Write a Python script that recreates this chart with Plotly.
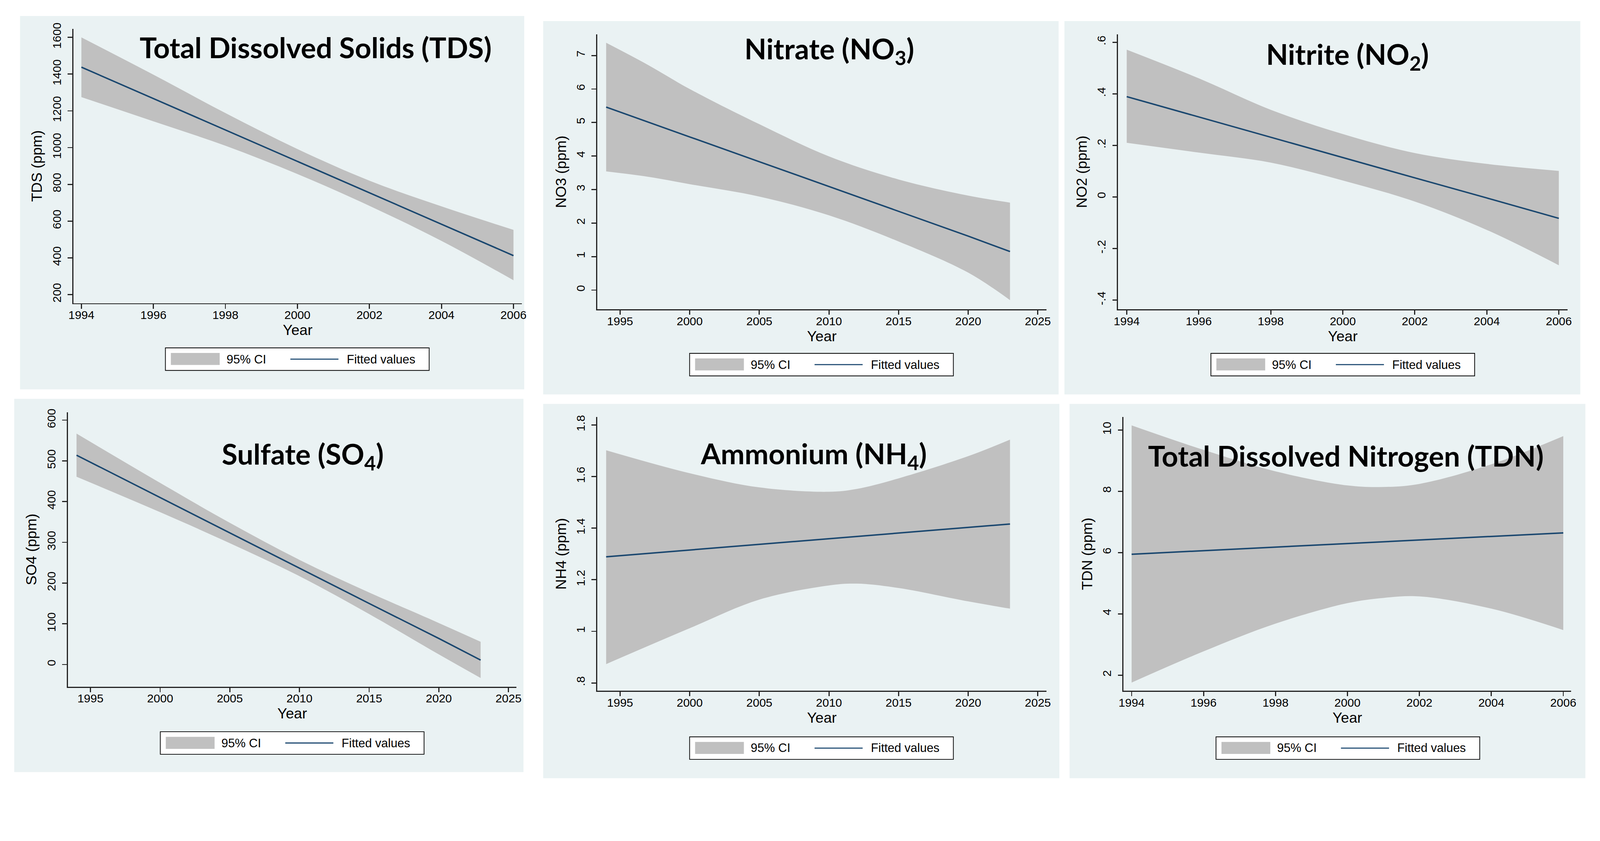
import plotly.graph_objects as go

# ---------------- data ----------------
TDS_year  = [1994, 1996, 1998, 2000, 2002, 2004, 2006]
TDS_fit   = [1438, 1267, 1096, 925, 754, 583, 412]
TDS_upper = [1600, 1397, 1188, 992, 820, 680, 552]
TDS_lower = [1275, 1143, 1010, 856, 683, 492, 278]

NO3_year  = [1994, 1997, 2000, 2005, 2010, 2015, 2020, 2023]
NO3_fit   = [5.46, 5.02, 4.57, 3.83, 3.09, 2.35, 1.61, 1.15]
NO3_upper = [7.38, 6.72, 6.00, 4.95, 3.99, 3.30, 2.82, 2.61]
NO3_lower = [3.54, 3.38, 3.16, 2.79, 2.23, 1.45, 0.52, -0.30]

NO2_year  = [1994, 1996, 1998, 2000, 2002, 2004, 2006]
NO2_fit   = [0.389, 0.310, 0.232, 0.153, 0.074, -0.004, -0.083]
NO2_upper = [0.571, 0.460, 0.338, 0.244, 0.170, 0.128, 0.101]
NO2_lower = [0.210, 0.172, 0.133, 0.064, -0.018, -0.128, -0.265]

SO4_year  = [1994, 2000, 2005, 2010, 2015, 2020, 2023]
SO4_fit   = [514, 410, 323, 237, 150, 64, 11]
SO4_upper = [567, 446, 348, 257, 177, 102, 56]
SO4_lower = [461, 374, 298, 217, 124, 25, -33]

NH4_year  = [1994, 2000, 2005, 2010, 2012, 2015, 2020, 2023]
NH4_fit   = [1.289, 1.315, 1.337, 1.359, 1.368, 1.381, 1.403, 1.416]
NH4_upper = [1.702, 1.613, 1.558, 1.541, 1.552, 1.593, 1.679, 1.743]
NH4_lower = [0.873, 1.012, 1.123, 1.178, 1.185, 1.168, 1.116, 1.088]

TDN_year  = [1994, 1996, 1998, 2000, 2001, 2002, 2004, 2006]
TDN_fit   = [5.945, 6.061, 6.178, 6.294, 6.352, 6.410, 6.527, 6.643]
TDN_upper = [10.15, 9.35, 8.65, 8.19, 8.14, 8.24, 8.88, 9.80]
TDN_lower = [1.757, 2.775, 3.68, 4.35, 4.52, 4.57, 4.17, 3.47]

# tick values / labels
X_TICKS_SHORT = [1994, 1996, 1998, 2000, 2002, 2004, 2006]
X_TICKS_LONG  = [1995, 2000, 2005, 2010, 2015, 2020, 2025]

TDS_yticks = [200, 400, 600, 800, 1000, 1200, 1400, 1600]
TDS_ylabels = ["200", "400", "600", "800", "1000", "1200", "1400", "1600"]
NO3_yticks = [0, 1, 2, 3, 4, 5, 6, 7]
NO3_ylabels = ["0", "1", "2", "3", "4", "5", "6", "7"]
NO2_yticks = [-0.4, -0.2, 0, 0.2, 0.4, 0.6]
NO2_ylabels = ["-.4", "-.2", "0", ".2", ".4", ".6"]
SO4_yticks = [0, 100, 200, 300, 400, 500, 600]
SO4_ylabels = ["0", "100", "200", "300", "400", "500", "600"]
NH4_yticks = [0.8, 1.0, 1.2, 1.4, 1.6, 1.8]
NH4_ylabels = [".8", "1", "1.2", "1.4", "1.6", "1.8"]
TDN_yticks = [2, 4, 6, 8, 10]
TDN_ylabels = ["2", "4", "6", "8", "10"]

TITLES = ["Total Dissolved Solids (TDS)", "Nitrate (NO<sub>3</sub>)", "Nitrite (NO<sub>2</sub>)",
          "Sulfate (SO<sub>4</sub>)", "Ammonium (NH<sub>4</sub>)", "Total Dissolved Nitrogen (TDN)"]
Y_TITLES = ["TDS (ppm)", "NO3 (ppm)", "NO2 (ppm)", "SO4 (ppm)", "NH4 (ppm)", "TDN (ppm)"]
X_TITLE = "Year"
LEG_CI = "95% CI"
LEG_FIT = "Fitted values"

# ---------------- layout geometry (pixels) ----------------
W, H = 4365, 2154
BG = "#eaf2f3"
CI_COLOR = "#c0c0c0"
FIT_COLOR = "#1a476f"
AX_COLOR = "#222222"
TICK_FONT = "Liberation Sans, Arial, sans-serif"
TITLE_FONT = "Lato, sans-serif"

panels = [
    dict(year=TDS_year, fit=TDS_fit, up=TDS_upper, lo=TDS_lower, xt=X_TICKS_SHORT,
         yt=TDS_yticks, yl=TDS_ylabels, xr=[1993.774, 2006.238], yr=[153, 1647],
         plot=(188, 62, 1420, 817), bg=(42, 27, 1426, 1054),
         title=(853, 113), leg=(441, 940)),
    dict(year=NO3_year, fit=NO3_fit, up=NO3_upper, lo=NO3_lower, xt=X_TICKS_LONG,
         yt=NO3_yticks, yl=NO3_ylabels, xr=[1993.35, 2025.63], yr=[-0.576, 7.635],
         plot=(1626, 77, 2860, 834), bg=(1478, 41, 2893, 1068),
         title=(2264, 121), leg=(1880, 955)),
    dict(year=NO2_year, fit=NO2_fit, up=NO2_upper, lo=NO2_lower, xt=X_TICKS_SHORT,
         yt=NO2_yticks, yl=NO2_ylabels, xr=[1993.758, 2006.242], yr=[-0.436, 0.631],
         plot=(3056, 77, 4290, 834), bg=(2909, 41, 4325, 1068),
         title=(3686, 137), leg=(3311, 955)),
    dict(year=SO4_year, fit=SO4_fit, up=SO4_upper, lo=SO4_lower, xt=X_TICKS_LONG,
         yt=SO4_yticks, yl=SO4_ylabels, xr=[1993.373, 2025.58], yr=[-54.3, 619.4],
         plot=(173, 1117, 1405, 1872), bg=(26, 1080, 1424, 2107),
         title=(818, 1236), leg=(427, 1996)),
    dict(year=NH4_year, fit=NH4_fit, up=NH4_upper, lo=NH4_lower, xt=X_TICKS_LONG,
         yt=NH4_yticks, yl=NH4_ylabels, xr=[1993.35, 2025.63], yr=[0.770, 1.831],
         plot=(1626, 1130, 2860, 1883), bg=(1478, 1094, 2895, 2124),
         title=(2220, 1235), leg=(1880, 2010)),
    dict(year=TDN_year, fit=TDN_fit, up=TDN_upper, lo=TDN_lower, xt=X_TICKS_SHORT,
         yt=TDN_yticks, yl=TDN_ylabels, xr=[1993.774, 2006.22], yr=[1.493, 10.425],
         plot=(3071, 1130, 4300, 1883), bg=(2923, 1094, 4339, 2124),
         title=(3681, 1237), leg=(3325, 2010)),
]

LEG_W, LEG_H = 724, 62


def px(x):
    return x / W


def py(y):
    return 1 - y / H


fig = go.Figure()
shapes, annotations = [], []
layout = dict(width=W, height=H, margin=dict(l=0, r=0, t=0, b=0), autosize=False,
              paper_bgcolor="white", plot_bgcolor="white", showlegend=False)

for i, p in enumerate(panels):
    n = i + 1
    xa = "x" if n == 1 else f"x{n}"
    ya = "y" if n == 1 else f"y{n}"

    fig.add_trace(go.Scatter(x=p["year"], y=p["lo"], mode="lines",
                             line=dict(width=0, color=CI_COLOR, shape="spline"),
                             name=LEG_CI, showlegend=False, hoverinfo="skip", xaxis=xa, yaxis=ya))
    fig.add_trace(go.Scatter(x=p["year"], y=p["up"], mode="lines", fill="tonexty",
                             fillcolor=CI_COLOR, line=dict(width=0, color=CI_COLOR, shape="spline"),
                             name=LEG_CI, xaxis=xa, yaxis=ya))
    fig.add_trace(go.Scatter(x=p["year"], y=p["fit"], mode="lines",
                             line=dict(width=4, color=FIT_COLOR),
                             name=LEG_FIT, xaxis=xa, yaxis=ya))

    x0, y0, x1, y1 = p["plot"]
    xkey = "xaxis" if n == 1 else f"xaxis{n}"
    ykey = "yaxis" if n == 1 else f"yaxis{n}"
    layout[xkey] = dict(domain=[px(x0), px(x1)], anchor=ya, range=p["xr"],
                        tickvals=p["xt"], ticktext=[str(v) for v in p["xt"]],
                        showline=True, linecolor=AX_COLOR, linewidth=3,
                        ticks="outside", ticklen=12, tickwidth=3, tickcolor=AX_COLOR,
                        ticklabelstandoff=-10,
                        showgrid=False, zeroline=False,
                        tickfont=dict(family=TICK_FONT, size=32, color="#000"),
                        title=dict(text=X_TITLE, font=dict(family=TICK_FONT, size=40, color="#000"),
                                   standoff=10))
    layout[ykey] = dict(domain=[py(y1), py(y0)], anchor=xa, range=p["yr"],
                        tickvals=p["yt"], ticktext=p["yl"], tickangle=-90,
                        showline=True, linecolor=AX_COLOR, linewidth=3,
                        ticks="outside", ticklen=12, tickwidth=3, tickcolor=AX_COLOR,
                        ticklabelstandoff=6,
                        showgrid=True, gridcolor=BG, gridwidth=3, zeroline=False,
                        tickfont=dict(family=TICK_FONT, size=32, color="#000"),
                        title=dict(text=Y_TITLES[i], font=dict(family=TICK_FONT, size=40, color="#000"),
                                   standoff=10))

    # panel background (graph region)
    bx0, by0, bx1, by1 = p["bg"]
    shapes.append(dict(type="rect", xref="paper", yref="paper", x0=px(bx0), x1=px(bx1),
                       y0=py(by1), y1=py(by0), fillcolor=BG, line=dict(width=0),
                       layer="below"))

    # panel title
    tx, ty = p["title"]
    annotations.append(dict(text="<b>" + TITLES[i] + "</b>", xref="paper", yref="paper",
                            x=px(tx), y=py(ty), xanchor="center", yanchor="middle",
                            showarrow=False, font=dict(family=TITLE_FONT, size=78, color="#000")))

    # legend box
    L, T = p["leg"]
    shapes.append(dict(type="rect", xref="paper", yref="paper", x0=px(L), x1=px(L + LEG_W),
                       y0=py(T + LEG_H), y1=py(T), fillcolor="white",
                       line=dict(color="#000", width=2), layer="above"))
    shapes.append(dict(type="rect", xref="paper", yref="paper", x0=px(L + 15), x1=px(L + 149),
                       y0=py(T + 47), y1=py(T + 14), fillcolor=CI_COLOR,
                       line=dict(width=0), layer="above"))
    shapes.append(dict(type="line", xref="paper", yref="paper", x0=px(L + 343), x1=px(L + 475),
                       y0=py(T + 31), y1=py(T + 31), line=dict(color=FIT_COLOR, width=3),
                       layer="above"))
    annotations.append(dict(text=LEG_CI, xref="paper", yref="paper", x=px(L + 166), y=py(T + 31),
                            xanchor="left", yanchor="middle", showarrow=False,
                            font=dict(family=TICK_FONT, size=33, color="#000")))
    annotations.append(dict(text=LEG_FIT, xref="paper", yref="paper", x=px(L + 496), y=py(T + 31),
                            xanchor="left", yanchor="middle", showarrow=False,
                            font=dict(family=TICK_FONT, size=33, color="#000")))

layout["shapes"] = shapes
layout["annotations"] = annotations
fig.update_layout(**layout)

POST = (
    "document.documentElement.style.margin='0';"
    "document.body.style.margin='0';document.body.style.overflow='hidden';"
    "var gd=document.getElementById('{plot_id}');"
    "var s=Math.min(window.innerWidth/%d, window.innerHeight/%d);"
    "if(Math.abs(s-1)>0.001){gd.style.transformOrigin='0 0';gd.style.transform='scale('+s+')';}"
) % (W, H)

fig.write_html("out.html", post_script=POST, config={"displayModeBar": False})
